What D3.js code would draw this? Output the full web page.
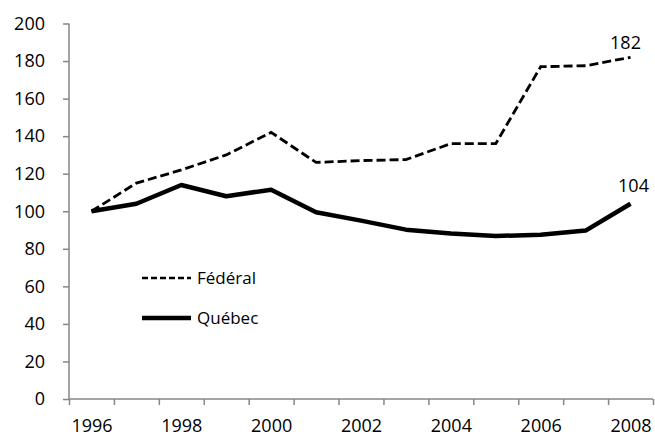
<!DOCTYPE html>
<html>
<head>
<meta charset="utf-8">
<style>
  body { margin: 0; background: #fff; }
  text { font-family: "Open Sans", "Noto Sans", sans-serif; fill: #000; }
</style>
</head>
<body>
<svg id="chart" width="655" height="438"></svg>
<script src="https://d3js.org/d3.v7.min.js"></script>
<script>
    // data
    const years = [1996, 1997, 1998, 1999, 2000, 2001, 2002, 2003, 2004, 2005, 2006, 2007, 2008];
    const federal = [100, 115, 122, 130, 142, 126, 127, 127.5, 136, 136, 177, 177.5, 182];
    const quebec = [100, 104, 114, 108, 111.5, 99.5, 95, 90.2, 88.2, 86.8, 87.5, 89.7, 104];
    const yTicks = [0, 20, 40, 60, 80, 100, 120, 140, 160, 180, 200];
    const xLabels = [1996, 1998, 2000, 2002, 2004, 2006, 2008];

    const svg = d3.select('#chart');
    const AXIS = '#868686';

    // category axis: points sit in the middle of each year slot
    const x = d3.scaleLinear().domain([1995.5, 2008.5]).range([69, 653]);
    const y = d3.scaleLinear().domain([0, 200]).range([399, 23.5]);

    // y axis
    const yAxis = svg.append('g')
        .attr('transform', 'translate(69,0)')
        .call(d3.axisLeft(y).tickValues(yTicks).tickSize(6).tickPadding(18));
    yAxis.selectAll('line').attr('stroke', AXIS).attr('stroke-width', 1.5);
    yAxis.select('.domain').attr('stroke', AXIS).attr('stroke-width', 1.5)
        .attr('d', 'M0,' + y(200) + 'V' + y(0));
    yAxis.selectAll('text').style('font-size', '18px').attr('fill', '#000');

    // x axis ticks between categories
    const xAxis = svg.append('g')
        .attr('transform', 'translate(0,399)')
        .call(d3.axisBottom(x).tickValues(d3.range(1995.5, 2009, 1)).tickSize(6).tickFormat(''));
    xAxis.selectAll('line').attr('stroke', AXIS).attr('stroke-width', 1.5);
    xAxis.select('.domain').attr('stroke', AXIS).attr('stroke-width', 1.5)
        .attr('d', 'M' + x(1995.5) + ',0H' + x(2008.5));

    // year labels
    const xLab = svg.append('g')
        .attr('transform', 'translate(0,399)')
        .call(d3.axisBottom(x).tickValues(xLabels).tickSize(0).tickFormat(d3.format('d')));
    xLab.select('.domain').remove();
    xLab.selectAll('text').style('font-size', '18px').attr('fill', '#000')
        .attr('y', 33).attr('dy', 0);

    const line = d3.line()
        .x((d, i) => x(years[i]))
        .y(d => y(d));

    svg.append('path')
        .datum(federal)
        .attr('d', line)
        .attr('fill', 'none')
        .attr('stroke', '#000')
        .attr('stroke-width', 2.8)
        .attr('stroke-dasharray', '9,4');

    svg.append('path')
        .datum(quebec)
        .attr('d', line)
        .attr('fill', 'none')
        .attr('stroke', '#000')
        .attr('stroke-width', 4.5)
        .attr('stroke-linejoin', 'round');

    // end labels
    const last = years.length - 1;
    svg.append('text')
        .attr('x', x(years[last]) - 5).attr('y', y(federal[last]) - 8)
        .attr('text-anchor', 'middle').style('font-size', '18px')
        .text(d3.format('d')(federal[last]));
    svg.append('text')
        .attr('x', x(years[last]) + 3).attr('y', y(quebec[last]) - 12)
        .attr('text-anchor', 'middle').style('font-size', '18px')
        .text(d3.format('d')(quebec[last]));

    // legend
    const legend = [
        {name: 'Fédéral', dash: '6,3', width: 2.5, y: 278},
        {name: 'Québec', dash: null, width: 4.5, y: 318}
    ];
    legend.forEach(function(d) {
        svg.append('line')
            .attr('x1', 142).attr('x2', 191)
            .attr('y1', d.y).attr('y2', d.y)
            .attr('stroke', '#000')
            .attr('stroke-width', d.width)
            .attr('stroke-dasharray', d.dash);
        svg.append('text')
            .attr('x', 197).attr('y', d.y)
            .attr('dy', '0.36em')
            .style('font-size', '17px')
            .text(d.name);
    });
</script>
</body>
</html>
